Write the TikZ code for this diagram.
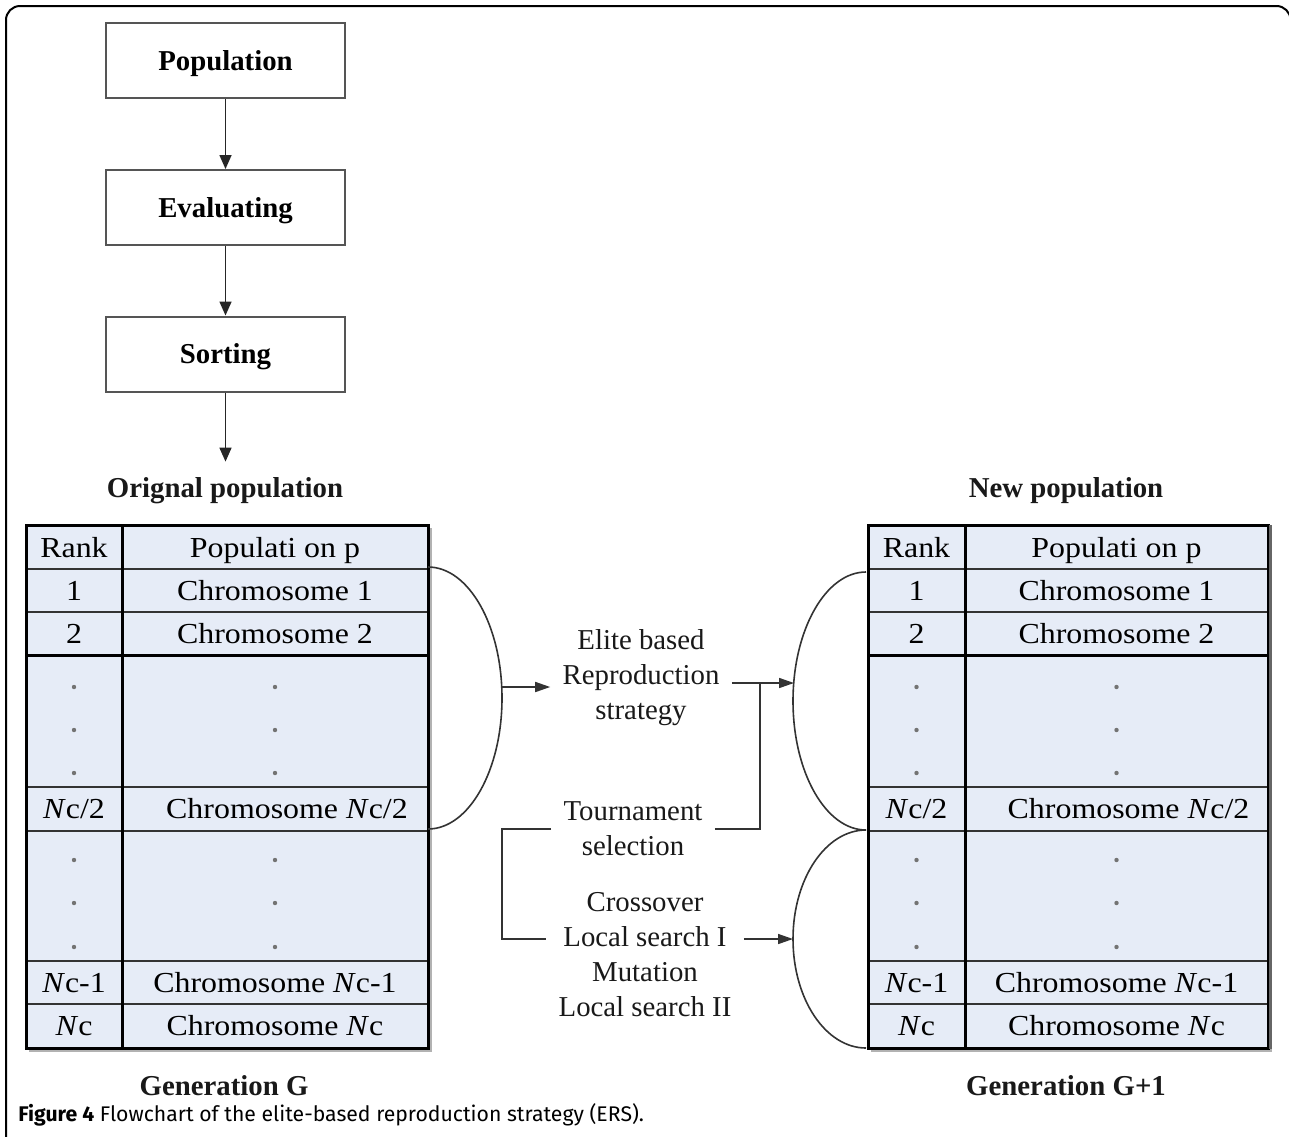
\documentclass[tikz,border=0pt]{standalone}
\usepackage{fontspec}
\setmainfont{Liberation Serif}
\newfontfamily\tblfont[FakeStretch=1.1]{Liberation Serif}
\newfontfamily\capfont{Fira Sans}
\usetikzlibrary{arrows.meta}
\definecolor{tblue}{RGB}{230,236,247}
\definecolor{boxline}{RGB}{85,85,85}
\tikzset{
  flowbox/.style={draw=boxline, line width=1pt, minimum width=119.5pt, minimum height=37.5pt,
    inner sep=0pt, text height=9.5pt, text depth=0pt, font=\fontsize{14.4}{16}\selectfont\bfseries},
  arr/.style={-{Triangle[length=7pt,width=6pt]}, line width=0.8pt, draw=black!85},
  arr2/.style={-{Triangle[length=7.5pt,width=5pt]}, line width=0.8pt, draw=black!80},
  conn/.style={line width=0.8pt, draw=black!80},
  title/.style={font=\fontsize{14.4}{16}\selectfont\bfseries, inner sep=0pt, text height=9.5pt, text depth=0pt, text=black!90},
  mid/.style={font=\fontsize{14.4}{17.5}\selectfont, align=center, inner sep=6pt, text=black!90},
  cell/.style={font=\tblfont\fontsize{14.5}{16}\selectfont, inner sep=0pt, text height=9.6pt, text depth=0pt, text=black},
  tline/.style={line width=1pt, draw=black!80},
  tthick/.style={line width=1.5pt, draw=black},
  dotc/.style={fill=black!55},
}
\newcommand\poptable[4]{%
  \draw[black!30, line width=1.5pt] ({#4+2},528) -- ({#4+2},1050) -- ({#2+3},1050);
  \fill[tblue] (#2,525) rectangle (#4,1048);
  \foreach \yy in {569,612,787,831,961,1004} \draw[tline] (#2,\yy) -- (#4,\yy);
  \draw[tthick] (#2,655) -- (#4,655);
  \draw[tthick] (#3,525) -- (#3,1048);
  \draw[tthick] (#2,525) rectangle (#4,1048);
  \foreach \yy in {687,730,773,860,903,947} {
    \fill[dotc] ({(#2+#3)/2},\yy) circle (1.1pt);
    \fill[dotc] ({(#3+#4)/2},\yy) circle (1.1pt);
  }
  \node[cell] (#1-rank) at ({(#2+#3)/2},547.5) {Rank};
  \node[cell] (#1-pop)  at ({(#3+#4)/2},547.5) {Populati on p};
  \node[cell] (#1-r1)   at ({(#2+#3)/2},591) {1};
  \node[cell] (#1-c1)   at ({(#3+#4)/2},591) {Chromosome 1};
  \node[cell] (#1-r2)   at ({(#2+#3)/2},634) {2};
  \node[cell] (#1-c2)   at ({(#3+#4)/2},634) {Chromosome 2};
  \node[cell] (#1-rh)   at ({(#2+#3)/2},809) {\textit{N}c/2};
  \node[cell] (#1-ch)   at ({(#3+#4)/2+12},809) {Chromosome \textit{N}c/2};
  \node[cell] (#1-rn1)  at ({(#2+#3)/2},982.5) {\textit{N}c-1};
  \node[cell] (#1-cn1)  at ({(#3+#4)/2},982.5) {Chromosome \textit{N}c-1};
  \node[cell] (#1-rn)   at ({(#2+#3)/2},1026) {\textit{N}c};
  \node[cell] (#1-cn)   at ({(#3+#4)/2},1026) {Chromosome \textit{N}c};
}
\begin{document}
\begin{tikzpicture}[x=0.5pt,y=-0.5pt]
\useasboundingbox (0,0) rectangle (1289,1136);
\fill[white] (0,0) rectangle (1289,1136);
% frame
\draw[line width=1pt, rounded corners=7pt] (6,1150) -- (6,6) -- (1290.5,6) -- (1290.5,1150);

% flowchart
\node[flowbox] (pop)  at (225.5,60.5) {Population};
\node[flowbox] (eval) at (225.5,207.5) {Evaluating};
\node[flowbox] (sort) at (225.5,354) {Sorting};
\node[title] (orig) at (225,487.5) {Orignal population};
\node[title] (newp) at (1066,487.5) {New population};
\draw[arr] (pop) -- (eval);
\draw[arr] (eval) -- (sort);
\draw[arr, shorten >=8pt] (sort) -- (sort |- orig.north);

% tables
\poptable{L}{26}{122}{428}
\poptable{R}{868}{965}{1268}
\draw[black!60, line width=1.5pt] (1270,525) -- (1270,1049);

\node[title] (genG)  at (224,1086) {Generation G};
\node[title] (genG1) at (1066,1086) {Generation G+1};

% middle texts
\node[mid] (elite) at (641,678) {Elite based\\Reproduction\\strategy};
\node[mid] (tour)  at (633,829) {Tournament\\selection};
\node[mid] (cross) at (645,955) {Crossover\\Local search I\\Mutation\\Local search II};

% braces
\draw[conn] (428,567) .. controls (468.8,567) and (502,625.7) .. (502,698)
  .. controls (502,770.3) and (468.8,829) .. (428,829);
\draw[conn] (866,572) .. controls (825.7,572) and (793,629.8) .. (793,701)
  .. controls (793,772.2) and (825.7,830) .. (866,830);
\draw[conn] (866,830) .. controls (825.7,830) and (793,878.8) .. (793,939)
  .. controls (793,999.2) and (825.7,1048) .. (866,1048);

\coordinate (lcurve) at (502,687);
\coordinate (ruarr) at (794,683);
\coordinate (jn) at (760,683);
\coordinate (bk) at (502,939);
\coordinate (rlarr) at (793,939);

\draw[arr2] (lcurve) -- (lcurve -| elite.west);
\draw[arr2] (elite.east |- ruarr) -- (ruarr);
\draw[conn] (tour.east) -| (jn);
\draw[conn] (tour.west) -| (bk) -- (bk -| cross.west);
\draw[arr2] (cross.east |- rlarr) -- (rlarr);

% caption
\node[anchor=base west, inner sep=0pt, font=\capfont\fontsize{10.6}{12}\selectfont] (cap) at (18,1121)
  {\textbf{Figure 4} Flowchart of the elite-based reproduction strategy (ERS).};
\end{tikzpicture}
\end{document}
